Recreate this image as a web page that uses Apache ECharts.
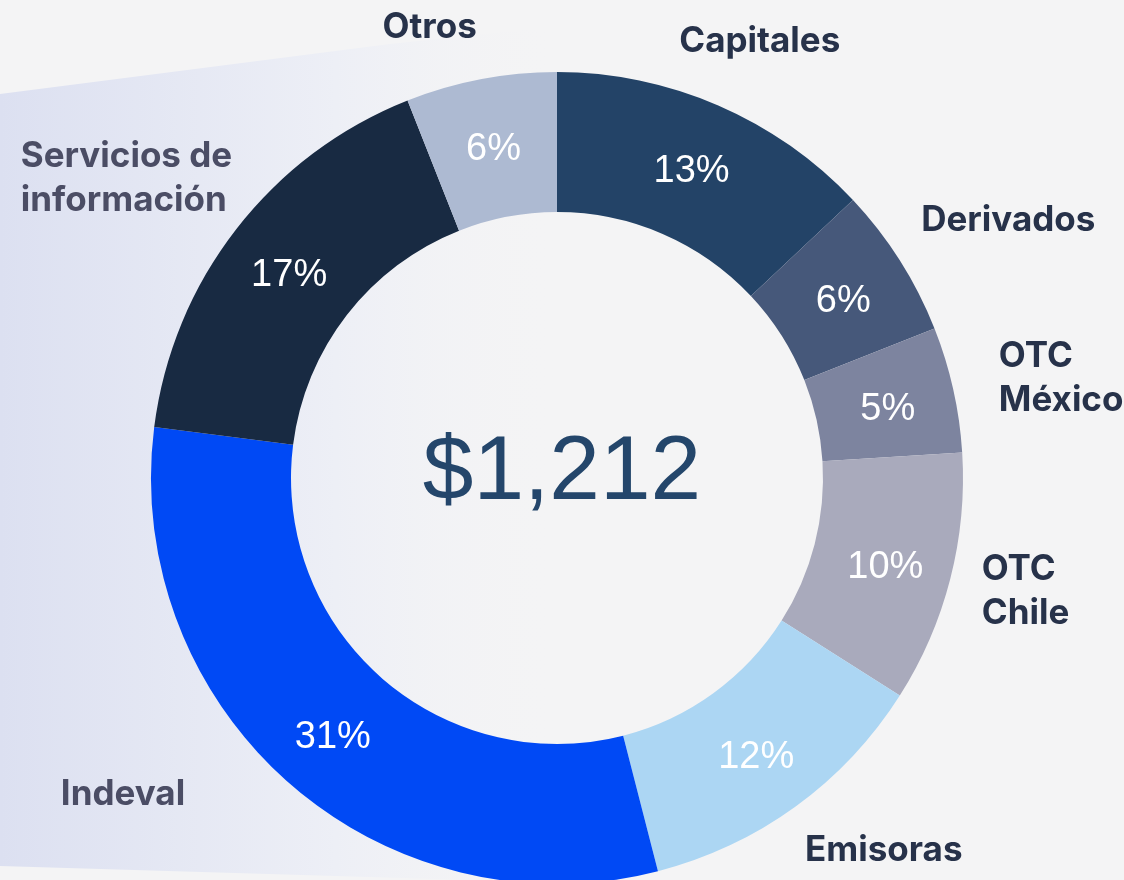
<!DOCTYPE html>
<html>
<head>
<meta charset="utf-8">
<script src="https://cdn.jsdelivr.net/npm/echarts@6/dist/echarts.min.js"></script>
<style>
html,body{margin:0;padding:0;background:#f4f4f5;}
#chart{width:1124px;height:880px;}
</style>
</head>
<body>
<div id="chart"></div>
<script>
// ---- data ----
const categories = ['Capitales', 'Derivados', 'OTC\nMéxico', 'OTC\nChile', 'Emisoras', 'Indeval', 'Servicios de\ninformación', 'Otros'];
const shares = [13, 6, 5, 10, 12, 31, 17, 6];
const totalLabel = '$1,212';

// ---- styles ----
const sliceColors = ['#234367', '#46587a', '#7d849f', '#a9aabc', '#acd6f3', '#0049f5', '#182a42', '#adbad2'];
const nameColors = ['#27324a', '#27324a', '#27324a', '#27324a', '#27324a', '#4b4d65', '#4b4d65', '#27324a'];
const nameOffset = [[7, 16], [35, 7], [23, 8], [-9, -9], [37, -26], [-108, -53], [-41, 3], [-35, 34]];

const NAME_FONT = 'Inter, "Noto Sans", sans-serif';
const NAME_SIZE = 35;
const NAME_LH = 44;

const chart = echarts.init(document.getElementById('chart'));

const innerData = categories.map((c, i) => ({
  name: c, value: shares[i], itemStyle: { color: sliceColors[i] }
}));
const nameData = categories.map((c, i) => ({
  name: c, value: shares[i],
  label: {
    offset: nameOffset[i],
    formatter: c.split('\n').map(s => '{l|' + s + '}').join('\n'),
    rich: {
      l: {
        align: c.indexOf('\n') >= 0 ? 'left' : 'center',
        color: nameColors[i],
        fontFamily: NAME_FONT,
        fontWeight: 'bold',
        fontSize: NAME_SIZE,
        lineHeight: NAME_LH
      }
    }
  }
}));

chart.setOption({
  backgroundColor: '#f4f4f5',
  animation: false,
  graphic: [{
    type: 'polygon',
    silent: true,
    z: -10,
    shape: { points: [[0, 94], [390, 44], [560, 26], [560, 884], [470, 880], [0, 866]] },
    style: {
      fill: new echarts.graphic.LinearGradient(0, 0, 1, 0, [
        { offset: 0, color: '#dce0f1' },
        { offset: 0.6, color: '#edeff6' },
        { offset: 1, color: 'rgba(244,244,245,0)' }
      ])
    }
  }, {
    type: 'text',
    silent: true,
    z: 10,
    left: 'center',
    top: 428,
    style: {
      text: totalLabel,
      fontFamily: '"Liberation Sans", Arial, sans-serif',
      fontSize: 91,
      fill: '#24466b'
    }
  }],
  series: [{
    type: 'pie',
    center: [557, 478],
    radius: [266, 406],
    startAngle: 90,
    clockwise: true,
    silent: true,
    label: {
      show: true,
      position: 'inside',
      formatter: '{c}%',
      color: '#ffffff',
      fontFamily: '"Liberation Sans", Arial, sans-serif',
      fontSize: 38,
      offset: [0, 5]
    },
    labelLine: { show: false },
    emphasis: { disabled: true },
    data: innerData
  }, {
    type: 'pie',
    center: [557, 478],
    radius: [410, 570],
    startAngle: 90,
    clockwise: true,
    silent: true,
    itemStyle: { color: 'rgba(0,0,0,0)' },
    label: {
      show: true,
      position: 'inside',
      fontFamily: NAME_FONT,
      fontWeight: 'bold',
      fontSize: NAME_SIZE,
      lineHeight: NAME_LH
    },
    labelLine: { show: false },
    emphasis: { disabled: true },
    data: nameData
  }]
});
</script>
</body>
</html>
